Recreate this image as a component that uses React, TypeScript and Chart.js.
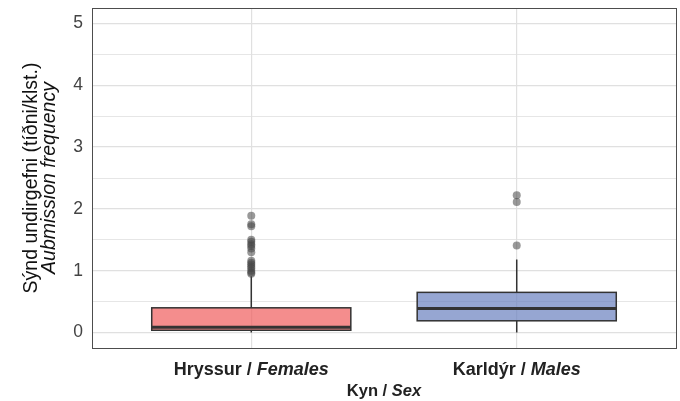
import React, { useEffect, useRef } from "react";
import { Chart, registerables } from "chart.js";

Chart.register(...registerables);

const categories = ["Hryssur", "Karldýr"];
const categoriesEn = ["Females", "Males"];
const positions = [1, 2];
const q1 = [0.037, 0.19];
const medians = [0.086, 0.39];
const q3 = [0.4, 0.65];
const whiskerLow = [0, 0];
const whiskerHigh = [0.91, 1.18];
const outliersFemales = [1.89, 1.75, 1.72, 1.5, 1.47, 1.43, 1.4, 1.36, 1.3, 1.16, 1.13, 1.1, 1.07, 1.04, 1.0, 0.97, 0.95];
const outliersMales = [2.22, 2.11, 1.41];
const yTicks = [0, 1, 2, 3, 4, 5];
const fills = ["rgba(240,92,92,0.7)", "rgba(105,128,191,0.7)"];

const FONT = "'Liberation Sans', Arial, Helvetica, sans-serif";

export default function App() {
  const ref = useRef<HTMLCanvasElement | null>(null);

  useEffect(() => {
    document.body.style.margin = "0";
    const canvas = ref.current!;
    const boxPlugin = {
      id: "boxes",
      beforeDatasetsDraw(chart: any) {
        const ctx = chart.ctx;
        const x = chart.scales.x;
        const y = chart.scales.y;
        ctx.save();
        for (let i = 0; i < positions.length; i++) {
          const cx = x.getPixelForValue(positions[i]);
          const left = x.getPixelForValue(positions[i] - 0.375);
          const right = x.getPixelForValue(positions[i] + 0.375);
          const top = y.getPixelForValue(q3[i]);
          const bot = y.getPixelForValue(q1[i]);
          ctx.strokeStyle = "#333333";
          ctx.lineWidth = 1.5;
          ctx.beginPath();
          ctx.moveTo(cx, y.getPixelForValue(whiskerHigh[i]));
          ctx.lineTo(cx, top);
          ctx.moveTo(cx, bot);
          ctx.lineTo(cx, y.getPixelForValue(whiskerLow[i]));
          ctx.stroke();
          ctx.fillStyle = fills[i];
          ctx.fillRect(left, top, right - left, bot - top);
          ctx.strokeRect(left, top, right - left, bot - top);
          ctx.lineWidth = 3;
          ctx.beginPath();
          const my = y.getPixelForValue(medians[i]);
          ctx.moveTo(left, my);
          ctx.lineTo(right, my);
          ctx.stroke();
        }
        ctx.restore();
      },
      afterDraw(chart: any) {
        const ctx = chart.ctx;
        const a = chart.chartArea;
        const x = chart.scales.x;
        ctx.save();
        ctx.strokeStyle = "#4d4d4d";
        ctx.lineWidth = 1;
        ctx.strokeRect(Math.round(a.left) + 0.5, Math.round(a.top) + 0.5, Math.round(a.right - a.left), Math.round(a.bottom - a.top));
        ctx.textBaseline = "alphabetic";
        ctx.fillStyle = "#222222";
        const drawMixed = (parts: { t: string; f: string }[], cx: number, by: number) => {
          let w = 0;
          for (const p of parts) {
            ctx.font = p.f;
            w += ctx.measureText(p.t).width;
          }
          let sx = cx - w / 2;
          ctx.textAlign = "left";
          for (const p of parts) {
            ctx.font = p.f;
            ctx.fillText(p.t, sx, by);
            sx += ctx.measureText(p.t).width;
          }
        };
        for (let i = 0; i < positions.length; i++) {
          const cx = x.getPixelForValue(positions[i]);
          drawMixed(
            [
              { t: categories[i] + " / ", f: `bold 18px ${FONT}` },
              { t: categoriesEn[i], f: `italic bold 18px ${FONT}` },
            ],
            cx,
            375
          );
        }
        drawMixed(
          [
            { t: "Kyn / ", f: `bold 16.5px ${FONT}` },
            { t: "Sex", f: `italic bold 16.5px ${FONT}` },
          ],
          (a.left + a.right) / 2,
          396
        );
        const cy = (a.top + a.bottom) / 2;
        ctx.translate(0, cy);
        ctx.rotate(-Math.PI / 2);
        ctx.textAlign = "center";
        ctx.font = `19.5px ${FONT}`;
        ctx.fillStyle = "#111111";
        ctx.fillText("Sýnd undirgefni (tíðni/klst.)", 0, 37);
        ctx.font = `italic 19.5px ${FONT}`;
        ctx.fillText("Aubmission frequency", 0, 55);
        ctx.restore();
      },
    };

    const chart = new Chart(canvas, {
      type: "scatter",
      data: {
        datasets: [
          {
            data: outliersFemales.map((v) => ({ x: positions[0], y: v })),
            backgroundColor: "rgba(70,70,70,0.55)",
            borderWidth: 0,
            pointRadius: 4,
          },
          {
            data: outliersMales.map((v) => ({ x: positions[1], y: v })),
            backgroundColor: "rgba(70,70,70,0.55)",
            borderWidth: 0,
            pointRadius: 4,
          },
        ],
      },
      options: {
        animation: false,
        responsive: false,
        events: [],
        layout: { padding: { left: 0, right: 2, top: 8, bottom: 0 } },
        plugins: { legend: { display: false }, tooltip: { enabled: false } },
        scales: {
          x: {
            type: "linear",
            min: 0.4,
            max: 2.6,
            afterBuildTicks: (s: any) => {
              s.ticks = positions.map((v) => ({ value: v }));
            },
            afterFit: (s: any) => {
              s.height = 53;
              s.paddingLeft = 0;
              s.paddingRight = 0;
            },
            ticks: { display: false },
            grid: { color: "#e0e0e0", lineWidth: 1.2, drawTicks: false },
            border: { display: false },
          },
          y: {
            type: "linear",
            min: -0.25,
            max: 5.25,
            afterBuildTicks: (s: any) => {
              const t: any[] = [];
              for (let v = 0; v <= 5; v += 0.5) t.push({ value: v });
              s.ticks = t;
            },
            afterFit: (s: any) => {
              s.width = 92;
              s.paddingTop = 0;
              s.paddingBottom = 0;
            },
            ticks: {
              padding: 9,
              color: "#444444",
              font: { family: FONT, size: 17.5 },
              callback: (v: any) => (yTicks.includes(Number(v)) ? String(v) : ""),
            },
            grid: {
              color: "#e0e0e0",
              lineWidth: (c: any) => (c.tick && Number.isInteger(c.tick.value) ? 1.2 : 0.8),
              drawTicks: false,
            },
            border: { display: false },
          },
        },
      },
      plugins: [boxPlugin],
    } as any);
    return () => chart.destroy();
  }, []);

  return (
    <div style={{ position: "fixed", left: 0, top: 0, width: 680, height: 401 }}>
      <canvas ref={ref} width={680} height={401} style={{ display: "block", width: 680, height: 401 }} />
    </div>
  );
}
